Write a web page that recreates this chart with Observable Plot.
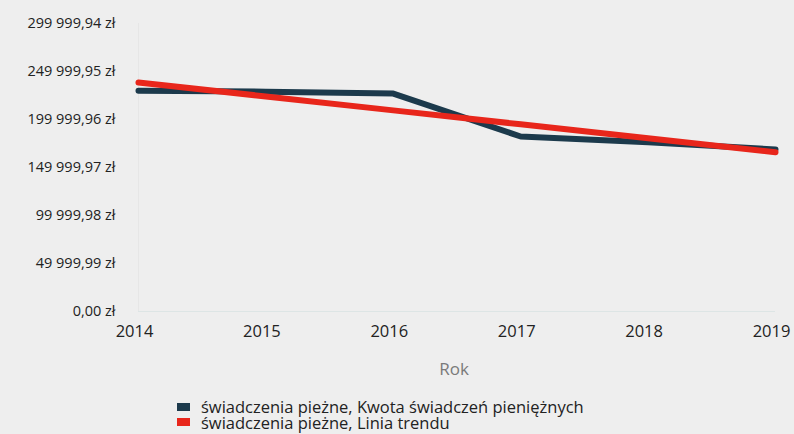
<!DOCTYPE html>
<html><head><meta charset="utf-8">
<script src="https://cdn.jsdelivr.net/npm/d3@7"></script>
<script src="https://cdn.jsdelivr.net/npm/@observablehq/plot@0.6"></script>
<style>
body{margin:0;background:#eeeeee;font-family:"Open Sans",sans-serif;}
#chart svg{background:#eeeeee;display:block}
.legend{position:absolute;left:177px;top:399px;font-size:16.5px;color:#222;line-height:15.5px}
.legend div{display:flex;align-items:center;height:15.5px}
.legend span.sw{display:inline-block;width:13px;height:8px;margin-right:11px}
</style></head><body>
<div id="chart"></div>
<div class="legend">
  <div><span class="sw" style="background:#1c3a4c"></span>świadczenia pieżne, Kwota świadczeń pieniężnych</div>
  <div><span class="sw" style="background:#e8261b"></span>świadczenia pieżne, Linia trendu</div>
</div>
<script>
const years = [2014, 2015, 2016, 2017, 2018, 2019];
const kwota = [230000, 229000, 227000, 182300, 176400, 168800];
const trend = [238600, 224000, 209500, 195000, 180500, 165900];
const yTicks = [0, 49999.99, 99999.98, 149999.97, 199999.96, 249999.95, 299999.94];
const seriesNames = ["świadczenia pieżne, Kwota świadczeń pieniężnych", "świadczenia pieżne, Linia trendu"];

const fmt = v => {
  const [i, d] = v.toFixed(2).split(".");
  return i.replace(/\B(?=(\d{3})+(?!\d))/g, " ") + "," + d + " zł";
};
const kData = years.map((y, i) => ({year: y, value: kwota[i]}));
const tData = years.map((y, i) => ({year: y, value: trend[i]}));

const chart = Plot.plot({
  width: 794, height: 385,
  marginLeft: 138, marginRight: 19, marginTop: 23, marginBottom: 74,
  style: {fontFamily: "Open Sans, sans-serif", fontSize: "14px", color: "#222", background: "#eeeeee"},
  x: {domain: [2014, 2019]},
  y: {domain: [0, 299999.94]},
  marks: [
    Plot.ruleY([0], {stroke: "#dde5e5", strokeWidth: 1}),
    Plot.ruleX([2014], {stroke: "#e6e6e6", strokeWidth: 1}),
    Plot.axisY({ticks: yTicks, tickFormat: fmt, tickSize: 0, tickPadding: 23, label: null, fontSize: 14.5}),
    Plot.axisX({ticks: years, tickFormat: d => String(d), tickSize: 0, tickPadding: 14, dx: -4, label: null, fontSize: 16.5}),
    Plot.text(["Rok"], {frameAnchor: "bottom", dy: 63, fill: "#7a7a7a", fontSize: 17, dx: -3}),
    Plot.line(kData, {x: "year", y: "value", stroke: "#1c3a4c", strokeWidth: 6}),
    Plot.line(tData, {x: "year", y: "value", stroke: "#e8261b", strokeWidth: 6})
  ]
});
document.getElementById("chart").appendChild(chart);
</script>
</body></html>
